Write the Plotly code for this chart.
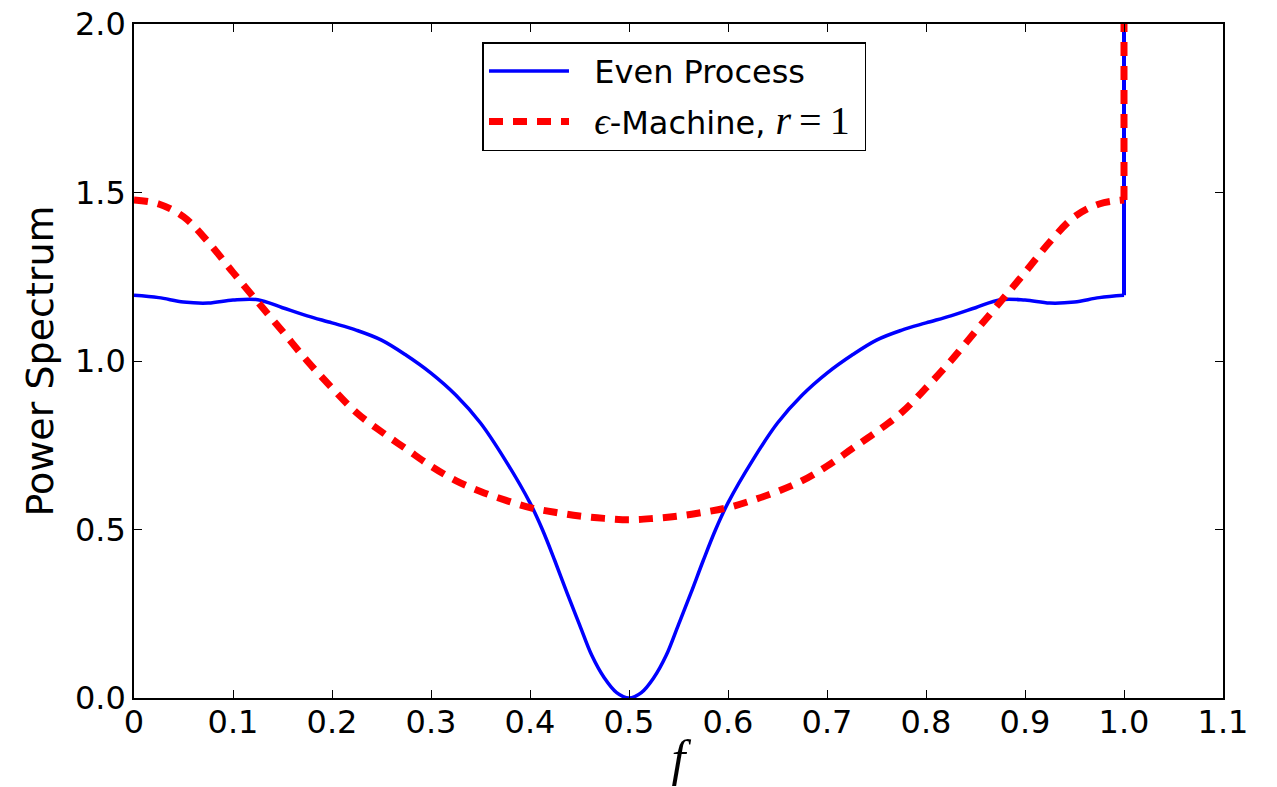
import plotly.graph_objects as go

# ---- data ----
freq_even = [0.000, 0.025, 0.050, 0.075, 0.100, 0.125, 0.150, 0.175, 0.200, 0.225,
             0.250, 0.275, 0.300, 0.325, 0.350, 0.375, 0.400, 0.4125, 0.425, 0.4375,
             0.450, 0.4625, 0.475, 0.4875, 0.500, 0.5125, 0.525, 0.5375, 0.550, 0.5625,
             0.575, 0.5875, 0.600, 0.625, 0.650, 0.675, 0.700, 0.725, 0.750, 0.775,
             0.800, 0.825, 0.850, 0.875, 0.900, 0.925, 0.950, 0.975, 1.000]

even_process = [1.195, 1.188, 1.175, 1.172, 1.181, 1.182, 1.158, 1.134, 1.113, 1.091,
                1.062, 1.017, 0.964, 0.899, 0.816, 0.706, 0.579, 0.500, 0.408, 0.311,
                0.218, 0.126, 0.060, 0.016, 0.000, 0.016, 0.060, 0.126, 0.218, 0.311,
                0.408, 0.500, 0.579, 0.706, 0.816, 0.899, 0.964, 1.017, 1.062, 1.091,
                1.113, 1.134, 1.158, 1.182, 1.181, 1.172, 1.175, 1.188, 1.195]

freq_em = [0.000, 0.025, 0.050, 0.075, 0.100, 0.125, 0.150, 0.175, 0.200, 0.225,
           0.250, 0.275, 0.300, 0.325, 0.350, 0.375, 0.400, 0.425, 0.450, 0.475,
           0.500, 0.525, 0.550, 0.575, 0.600, 0.625, 0.650, 0.675, 0.700, 0.725,
           0.750, 0.775, 0.800, 0.825, 0.850, 0.875, 0.900, 0.925, 0.950, 0.975,
           1.000]

e_machine = [1.478, 1.466, 1.428, 1.353, 1.263, 1.175, 1.088, 1.000, 0.920, 0.846,
             0.790, 0.739, 0.688, 0.645, 0.613, 0.587, 0.565, 0.551, 0.540, 0.533,
             0.529, 0.533, 0.540, 0.551, 0.565, 0.587, 0.613, 0.645, 0.688, 0.739,
             0.790, 0.846, 0.920, 1.000, 1.088, 1.175, 1.263, 1.353, 1.428, 1.466,
             1.478]

# delta peak at f = 1 (runs off the top of the axes)
spike_f = [1.0, 1.0]
spike_even = [1.195, 2.6]
spike_em = [1.478, 2.6]

x_ticks = [0, 0.1, 0.2, 0.3, 0.4, 0.5, 0.6, 0.7, 0.8, 0.9, 1.0, 1.1]
x_ticklabels = ["0", "0.1", "0.2", "0.3", "0.4", "0.5", "0.6", "0.7", "0.8", "0.9", "1.0", "1.1"]
y_ticks = [0.0, 0.5, 1.0, 1.5, 2.0]

BLUE = "#0000ff"
RED = "#ff0000"
MATH = "Liberation Serif"
PAD = "\u00a0\u00a0"

fig = go.Figure()
fig.add_trace(go.Scatter(
    x=freq_even, y=even_process, mode="lines", name=PAD + "Even Process",
    legendgroup="a", line=dict(color=BLUE, width=3.5, shape="spline", smoothing=1.0)))
fig.add_trace(go.Scatter(
    x=spike_f, y=spike_even, mode="lines", showlegend=False, legendgroup="a",
    line=dict(color=BLUE, width=4)))
em_name = (PAD + f'<span style="font-family:{MATH};font-size:38px"><i>ϵ</i></span>-Machine, '
           f'<span style="font-family:{MATH};font-size:40px"><i>r</i>\u2009=\u20091\u00a0</span>')
fig.add_trace(go.Scatter(
    x=freq_em, y=e_machine, mode="lines", name=em_name, legendgroup="b",
    line=dict(color=RED, width=7, dash="14px,10px", shape="spline", smoothing=1.0)))
fig.add_trace(go.Scatter(
    x=spike_f, y=spike_em, mode="lines", showlegend=False, legendgroup="b",
    line=dict(color=RED, width=7, dash="14px,10px")))

axis_common = dict(
    showline=True, linecolor="black", linewidth=1.5, mirror="ticks",
    ticks="inside", ticklen=8, tickwidth=1, tickcolor="black",
    showgrid=False, zeroline=False, automargin=False,
    tickfont=dict(family="DejaVu Sans", size=32, color="black"),
)

fig.update_xaxes(
    range=[0, 1.1], tickvals=x_ticks, ticktext=x_ticklabels, ticklabelstandoff=-5,
    title=dict(text="<i>f</i>", font=dict(family=MATH, size=50, color="black"), standoff=0),
    **axis_common)
fig.update_yaxes(
    range=[0, 2.0], tickvals=y_ticks, tickformat=".1f",
    title=dict(text="Power Spectrum", font=dict(family="DejaVu Sans", size=38, color="black"), standoff=10),
    **axis_common)

fig.update_layout(
    width=1277, height=787,
    margin=dict(l=134, r=54, t=24, b=89),
    paper_bgcolor="white", plot_bgcolor="white",
    showlegend=True,
    legend=dict(
        x=0.32, y=0.973, xanchor="left", yanchor="top",
        bgcolor="white", bordercolor="black", borderwidth=1.5,
        font=dict(family="DejaVu Sans", size=32, color="black"),
        traceorder="grouped", tracegroupgap=6, itemwidth=80,
    ),
)

fig.write_html("out.html")
